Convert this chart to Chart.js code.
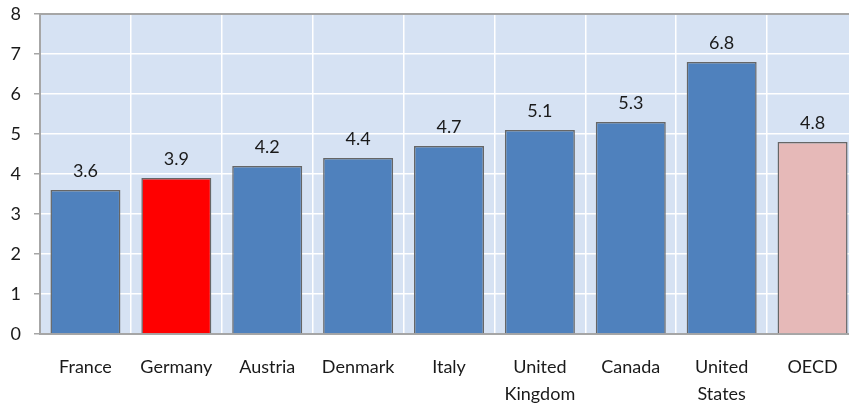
<!DOCTYPE html>
<html>
<head>
<meta charset="utf-8">
<script src="https://cdn.jsdelivr.net/npm/chart.js@4"></script>
<style>
  html, body { margin: 0; padding: 0; background: #fff; overflow: hidden; }
  #wrap { width: 862px; height: 405px; position: relative; }
</style>
</head>
<body>
<div id="wrap"><canvas id="c"></canvas></div>
<script>
const categories = ["France", "Germany", "Austria", "Denmark", "Italy", ["United", "Kingdom"], "Canada", ["United", "States"], "OECD"];
const values = [3.6, 3.9, 4.2, 4.4, 4.7, 5.1, 5.3, 6.8, 4.8];
const barColors = ["#4F81BD", "#FF0000", "#4F81BD", "#4F81BD", "#4F81BD", "#4F81BD", "#4F81BD", "#4F81BD", "#E6B9B8"];
const yTicks = [0, 1, 2, 3, 4, 5, 6, 7, 8];

const FONT = "Lato, 'Open Sans', sans-serif";

const bgPlugin = {
  id: 'plotBg',
  beforeDraw(chart) {
    const {ctx, chartArea: a} = chart;
    ctx.save();
    ctx.fillStyle = '#D6E2F3';
    ctx.fillRect(a.left, a.top, a.right - a.left, a.bottom - a.top);
    ctx.restore();
  },
  afterDraw(chart) {
    const {ctx, chartArea: a} = chart;
    ctx.save();
    ctx.strokeStyle = '#A6A6A6';
    ctx.lineWidth = 2;
    ctx.beginPath();
    ctx.moveTo(a.left, a.top);
    ctx.lineTo(a.right, a.top);
    ctx.stroke();
    ctx.restore();
  }
};

const labelPlugin = {
  id: 'valueLabels',
  afterDatasetsDraw(chart) {
    const {ctx} = chart;
    const meta = chart.getDatasetMeta(0);
    ctx.save();
    ctx.font = "18px " + FONT;
    ctx.fillStyle = '#1A1A1A';
    ctx.textAlign = 'center';
    ctx.textBaseline = 'alphabetic';
    meta.data.forEach((bar, i) => {
      ctx.fillText(values[i].toFixed(1), bar.x, bar.y - 13);
    });
    ctx.restore();
  }
};

new Chart(document.getElementById('c'), {
  type: 'bar',
  data: {
    labels: categories,
    datasets: [{
      data: values,
      backgroundColor: barColors,
      borderColor: '#666666',
      borderWidth: 1.5,
      categoryPercentage: 1,
      barPercentage: 0.77
    }]
  },
  options: {
    responsive: true,
    maintainAspectRatio: false,
    animation: false,
    layout: { padding: { top: 14, right: 4, left: 0, bottom: 0 } },
    plugins: { legend: { display: false }, tooltip: { enabled: false } },
    scales: {
      x: {
        offset: true,
        grid: { color: '#FFFFFF', lineWidth: 1.5, drawTicks: false, offset: true },
        border: { color: '#A6A6A6', width: 2 },
        ticks: {
          color: '#1A1A1A',
          font: { family: FONT, size: 18, lineHeight: 1.5 },
          padding: 20,
          maxRotation: 0,
          autoSkip: false
        },
        afterFit(scale) { scale.height = 71; scale.paddingLeft = 0; scale.paddingRight = 0; }
      },
      y: {
        min: 0, max: 8,
        afterBuildTicks(scale) { scale.ticks = yTicks.map(v => ({value: v})); },
        grid: { color: '#FFFFFF', lineWidth: 1.5, tickColor: '#A6A6A6', tickLength: 6 },
        border: { color: '#A6A6A6', width: 2 },
        ticks: {
          color: '#1A1A1A',
          font: { family: FONT, size: 18 },
          padding: 13
        },
        afterFit(scale) { scale.width = 40; scale.paddingTop = 0; scale.paddingBottom = 0; }
      }
    }
  },
  plugins: [bgPlugin, labelPlugin]
});
</script>
</body>
</html>
